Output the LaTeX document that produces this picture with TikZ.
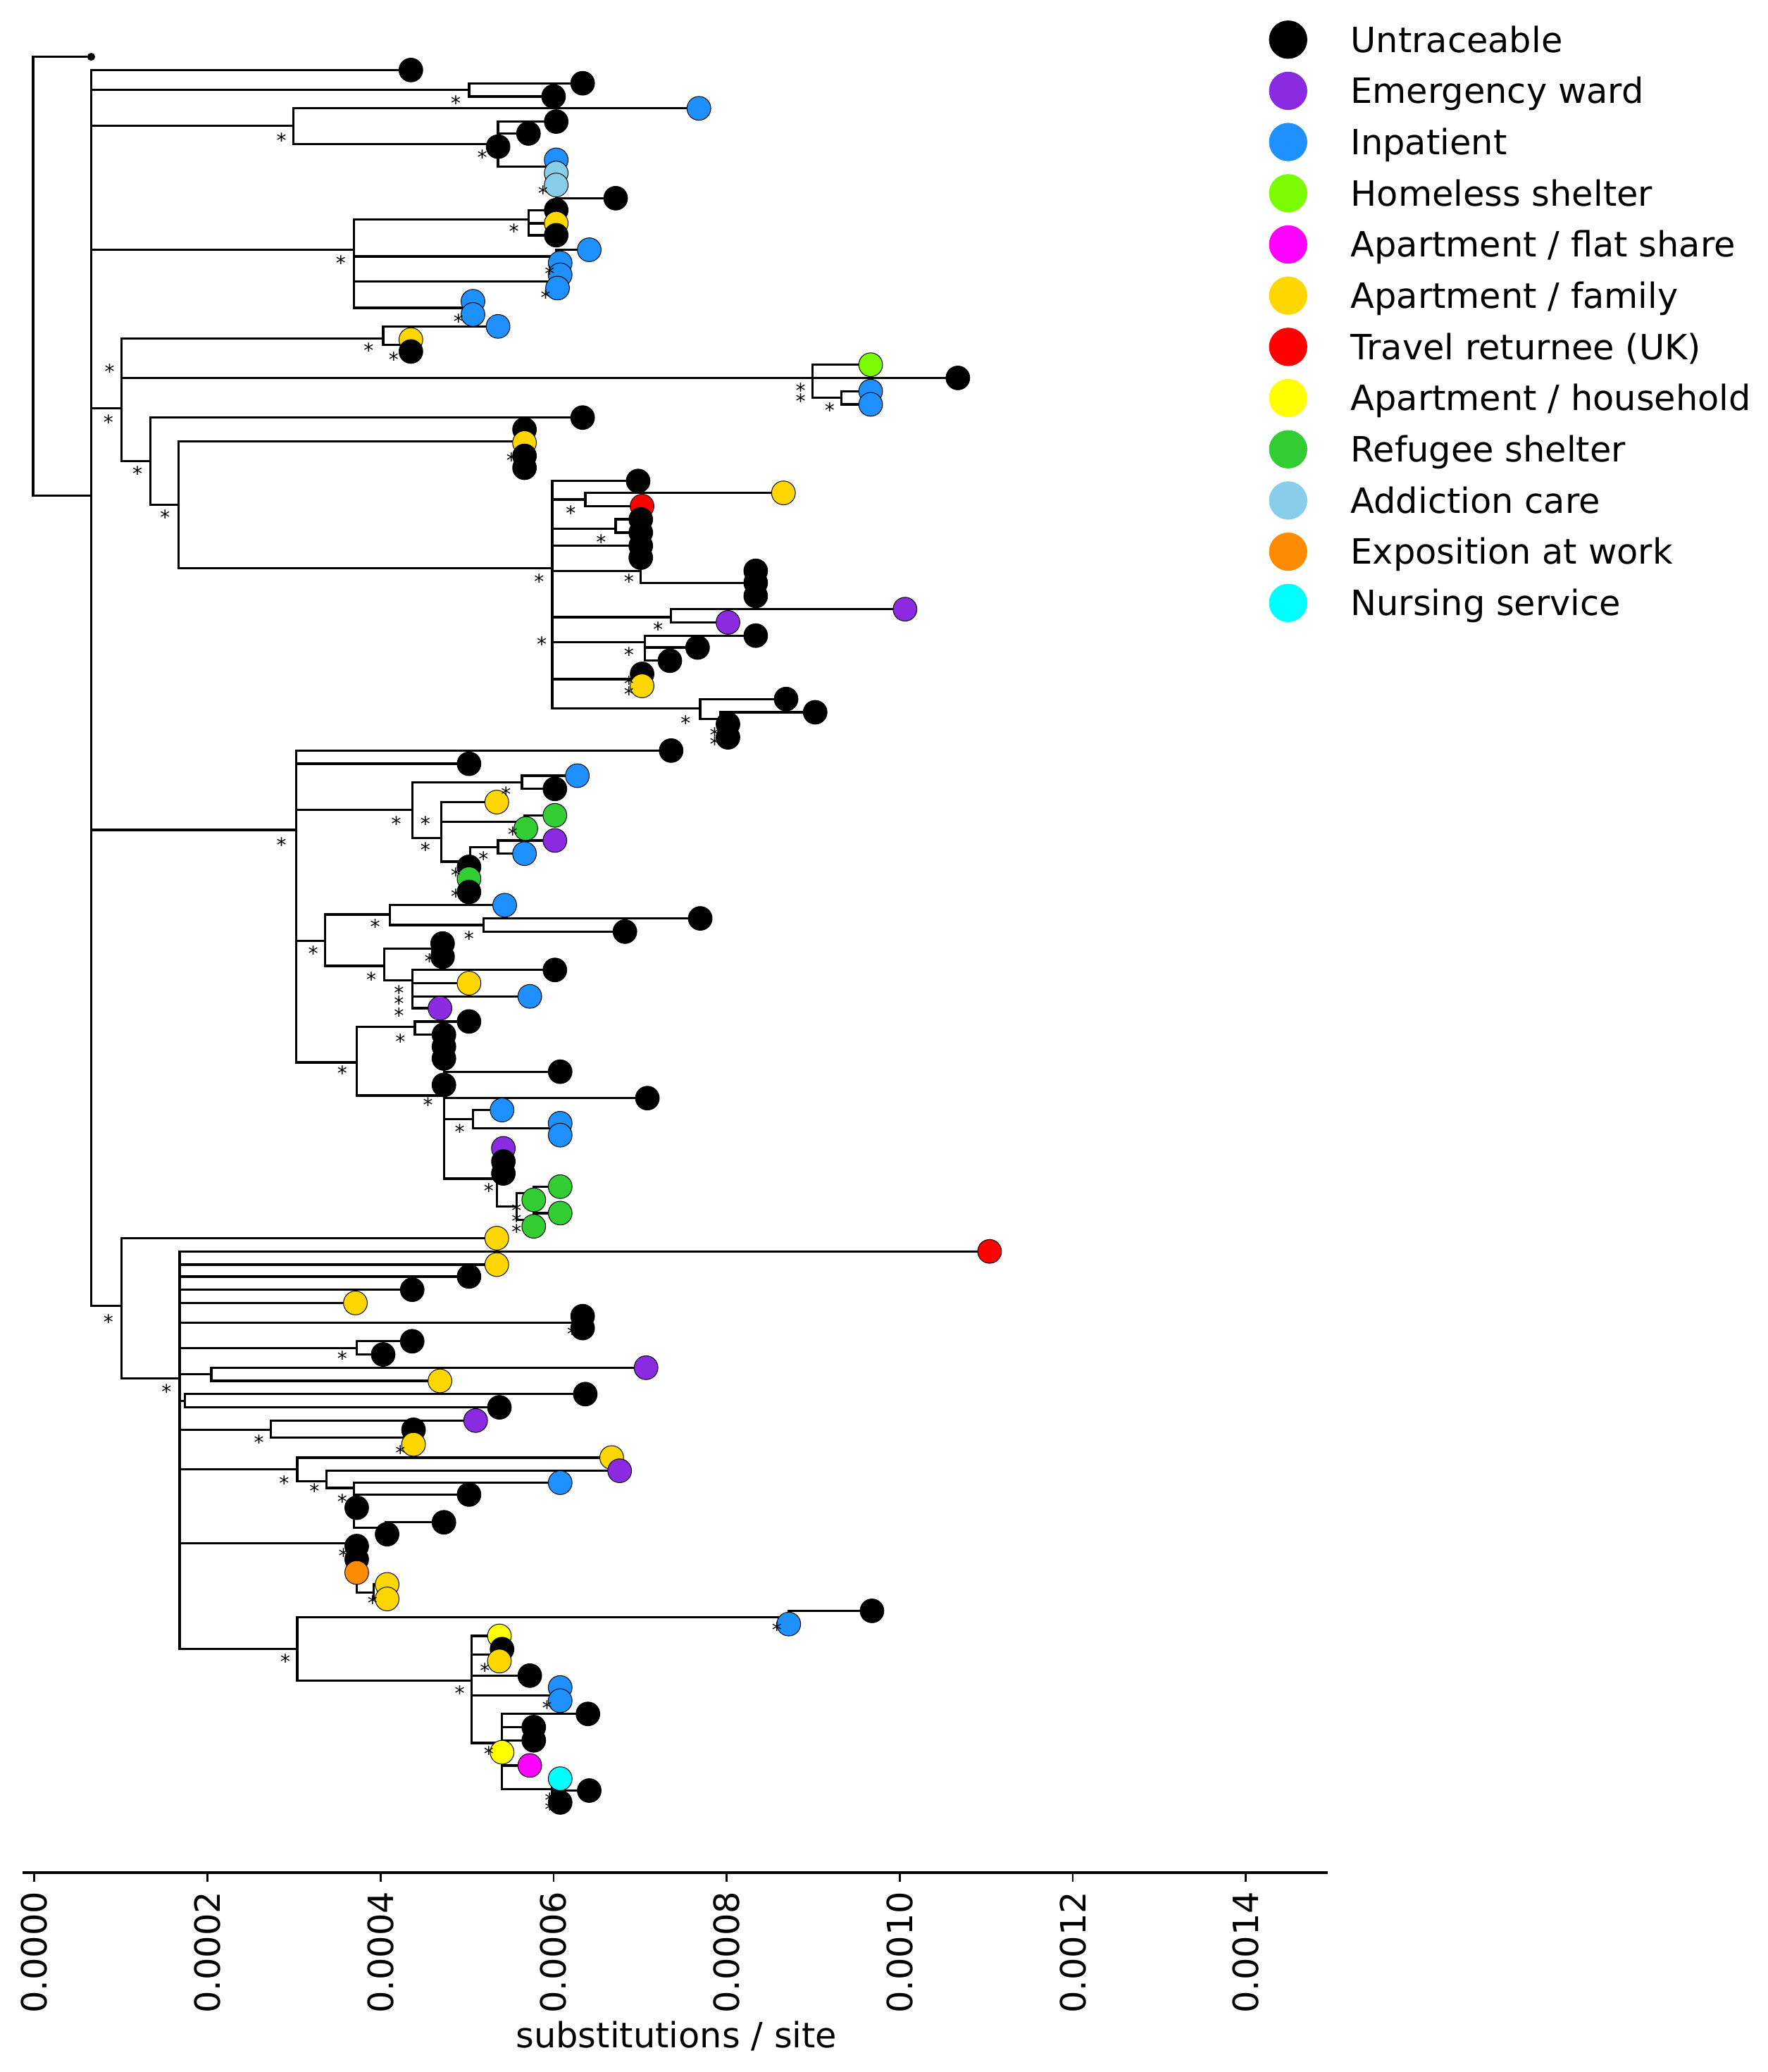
\documentclass[tikz,border=0pt]{standalone}
\usepackage{fontspec}
\setmainfont{DejaVu Sans}
\definecolor{untr}{HTML}{000000}
\definecolor{emerg}{HTML}{8A2BE2}
\definecolor{inpat}{HTML}{1E90FF}
\definecolor{homel}{HTML}{7CFC00}
\definecolor{aptflat}{HTML}{FF00FF}
\definecolor{aptfam}{HTML}{FFD700}
\definecolor{travel}{HTML}{FF0000}
\definecolor{apthouse}{HTML}{FFFF00}
\definecolor{refug}{HTML}{32CD32}
\definecolor{addic}{HTML}{87CEEB}
\definecolor{expos}{HTML}{FF8C00}
\definecolor{nurse}{HTML}{00FFFF}
\begin{document}
\begin{tikzpicture}[x=0.02cm,y=-0.02cm]
% styles
\tikzset{branch/.style={line width=1pt, line cap=rect},
         tipdot/.style={draw=black, line width=0.3pt},
         starlab/.style={inner sep=0pt, yshift=-1.8pt, font=\fontsize{8.5}{8.5}\selectfont},
         leglab/.style={anchor=base west, inner sep=0pt, font=\fontsize{15}{18}\selectfont},
         ticklab/.style={rotate=90, anchor=east, inner sep=0pt, font=\fontsize{15}{18}\selectfont}}
\useasboundingbox (0,0) rectangle (1338,1568);

% the tree -- vertical lines of the inner nodes
\foreach \x/\ya/\yb in {25/43/375, 69/53/988, 355/63/73, 222/82/109, 377/92/126,
    418/121/145, 421/140/150, 268/166/233, 400/159/178, 421/189/199, 421/208/218,
    358/228/238, 92/256/349, 290/247/261, 305/257/266, 615/276/301, 637/296/306,
    114/316/382, 397/316/325, 135/334/430, 397/334/354, 418/364/536, 443/373/383,
    466/393/403, 485/422/441, 567/432/451, 508/461/471, 488/481/500, 483/510/519,
    530/529/544, 545/539/558, 224/568/804, 312/592/634, 395/587/597, 334/607/652,
    397/617/627, 356/641/675, 377/636/646, 246/692/731, 295/685/700, 366/695/705,
    291/718/742, 327/714/724, 312/734/763, 270/777/829, 314/773/783, 336/792/892,
    358/840/854, 421/850/859, 376/869/913, 391/903/923, 404/898/908, 404/918/928,
    92/937/1043, 136/947/1248, 441/996/1005, 270/1015/1025, 160/1035/1045,
    140/1055/1065, 205/1075/1088, 313/1082/1093, 225/1103/1121, 247/1113/1126,
    268/1122/1156, 292/1152/1161, 270/1168/1205, 283/1199/1210, 225/1224/1272,
    597/1219/1229, 357/1238/1319, 378/1248/1257, 418/1277/1287, 380/1297/1354,
    418/1346/1364} {
\draw [branch] (\x,\ya) -- (\x,\yb);
}

% the tree -- horizontal branches
\foreach \xa/\xb/\y in {25/69/43, 25/69/375, 69/311/53, 69/355/68, 355/441/63,
    355/419/73, 69/222/95, 222/529/82, 222/377/109, 377/421/92, 377/400/101,
    377/418/126, 418/421/121, 418/421/131, 418/421/145, 421/466/150, 69/268/189,
    268/400/166, 400/421/159, 400/421/169, 400/421/178, 268/421/194, 421/446/189,
    421/424/199, 268/421/213, 421/424/208, 421/422/218, 268/358/233, 69/92/309,
    92/290/256, 290/377/247, 290/305/261, 305/311/257, 305/311/266, 92/615/286,
    615/659/276, 615/725/286, 615/637/301, 637/659/296, 637/659/306, 92/114/349,
    114/441/316, 114/135/382, 135/397/334, 135/418/430, 418/483/364, 418/443/378,
    443/593/373, 443/486/383, 418/466/400, 466/485/393, 466/485/403, 418/485/413,
    418/485/432, 485/567/441, 567/572/432, 567/572/451, 418/508/467, 508/685/461,
    508/551/471, 418/488/486, 488/572/481, 488/528/490, 488/507/500, 418/483/514,
    483/486/510, 483/486/519, 418/530/536, 530/595/529, 530/545/544, 545/617/539,
    545/551/548, 545/551/558, 69/224/628, 224/508/568, 224/355/578, 224/312/613,
    312/395/592, 395/437/587, 395/420/597, 312/334/634, 334/376/607, 334/397/622,
    397/420/617, 334/356/652, 356/377/641, 377/420/636, 377/397/646, 224/246/712,
    246/295/692, 295/382/685, 295/366/700, 366/530/695, 366/473/705, 246/291/731,
    291/327/718, 327/335/714, 327/335/724, 291/312/742, 312/420/734, 312/355/744,
    312/401/754, 312/333/763, 224/270/804, 270/314/777, 314/355/773, 314/336/783,
    270/336/829, 336/424/811, 336/490/831, 336/358/847, 358/380/840, 358/421/854,
    421/424/850, 421/424/859, 336/376/892, 376/391/913, 391/404/903, 404/424/898,
    391/404/923, 404/424/918, 69/92/988, 92/376/937, 92/136/1043, 136/749/947,
    136/376/957, 136/355/966, 136/312/976, 136/269/986, 136/441/1001,
    136/270/1020, 270/312/1015, 270/290/1025, 136/160/1040, 160/489/1035,
    160/333/1045, 136/140/1060, 140/443/1055, 140/378/1065, 136/205/1082,
    205/360/1075, 205/313/1088, 136/225/1112, 225/463/1103, 225/247/1121,
    247/469/1113, 247/268/1126, 268/424/1122, 268/355/1131, 268/292/1156,
    292/336/1152, 136/270/1168, 270/283/1205, 283/293/1199, 283/293/1210,
    136/225/1248, 225/597/1224, 597/660/1219, 225/357/1272, 357/378/1238,
    357/378/1252, 357/401/1268, 357/418/1283, 418/424/1277, 418/424/1287,
    357/380/1319, 380/445/1297, 380/404/1307, 380/404/1317, 380/401/1336,
    380/418/1354, 418/446/1355, 418/424/1364} {
\draw [branch] (\xa,\y) -- (\xb,\y);
}

% the reference dot
\fill (69,43) circle [radius=0.06cm];

% the tips
\foreach \x/\y/\c in {311/53/untr, 441/63/untr, 419/73/untr, 529/82/inpat,
    421/92/untr, 400/101/untr, 377/111/untr, 421/121/inpat, 421/131/addic,
    421/140/addic, 466/150/untr, 421/159/untr, 421/169/aptfam, 421/178/untr,
    446/189/inpat, 424/199/inpat, 424/208/inpat, 422/218/inpat, 358/228/inpat,
    358/238/inpat, 377/247/inpat, 311/257/aptfam, 311/266/untr, 659/276/homel,
    725/286/untr, 659/296/inpat, 659/306/inpat, 441/316/untr, 397/325/untr,
    397/335/aptfam, 397/345/untr, 397/354/untr, 483/364/untr, 593/373/aptfam,
    486/383/travel, 485/393/untr, 485/403/untr, 485/413/untr, 485/422/untr,
    572/432/untr, 572/441/untr, 572/451/untr, 685/461/emerg, 551/471/emerg,
    572/481/untr, 528/490/untr, 507/500/untr, 486/510/untr, 486/519/aptfam,
    595/529/untr, 617/539/untr, 551/548/untr, 551/558/untr, 508/568/untr,
    355/578/untr, 437/587/inpat, 420/597/untr, 376/607/aptfam, 420/617/refug,
    398/627/refug, 420/636/emerg, 397/646/inpat, 355/656/untr, 355/665/refug,
    355/675/untr, 382/685/inpat, 530/695/untr, 473/705/untr, 335/714/untr,
    335/724/untr, 420/734/untr, 355/744/aptfam, 401/754/inpat, 333/763/emerg,
    355/773/untr, 336/783/untr, 336/792/untr, 336/801/untr, 424/811/untr,
    336/821/untr, 490/831/untr, 380/840/inpat, 424/850/inpat, 424/859/inpat,
    381/869/emerg, 381/879/untr, 381/888/untr, 424/898/refug, 404/908/refug,
    424/918/refug, 404/928/refug, 376/937/aptfam, 749/947/travel, 376/957/aptfam,
    355/966/untr, 312/976/untr, 269/986/aptfam, 441/996/untr, 441/1005/untr,
    312/1015/untr, 290/1025/untr, 489/1035/emerg, 333/1045/aptfam, 443/1055/untr,
    378/1065/untr, 360/1075/emerg, 313/1082/untr, 313/1093/aptfam,
    463/1103/aptfam, 469/1113/emerg, 424/1122/inpat, 355/1131/untr,
    270/1141/untr, 336/1152/untr, 293/1161/untr, 270/1170/untr, 270/1180/untr,
    270/1190/expos, 293/1199/aptfam, 293/1210/aptfam, 660/1219/untr,
    597/1229/inpat, 378/1238/apthouse, 380/1248/untr, 378/1257/aptfam,
    401/1268/untr, 424/1277/inpat, 424/1287/inpat, 445/1297/untr, 404/1307/untr,
    404/1317/untr, 380/1326/apthouse, 401/1336/aptflat, 424/1346/nurse,
    446/1355/untr, 424/1364/untr} {
\filldraw [tipdot, fill=\c] (\x,\y) circle [radius=0.18cm];
}

% the support marks
\foreach \x/\y [count=\i] in {345/75, 213/103, 365/116, 411/143, 389/172,
    258/196, 416/204, 413/222, 347/240, 279/262, 298/269, 83/278, 606/292,
    606/300, 628/307, 82/316, 104/355, 387/345, 125/388, 432/385, 455/407,
    476/437, 408/437, 498/473, 410/484, 476/492, 476/514, 476/522, 519/544,
    541/553, 541/560, 213/636, 383/598, 300/620, 322/620, 388/628, 322/640,
    366/647, 345/659, 345/675, 284/698, 355/707, 237/718, 325/724, 281/738,
    302/748, 302/756, 302/765, 303/785, 259/809, 324/833, 348/853, 370/898,
    391/913, 391/921, 391/929, 82/997, 433/1006, 259/1025, 126/1050, 196/1088,
    303/1096, 215/1119, 238/1125, 259/1133, 260/1174, 282/1210, 216/1254,
    588/1230, 367/1261, 348/1278, 414/1289, 370/1324, 416/1359, 416/1366} {
\node [starlab] (star\i) at (\x,\y) {*};
}

% the axis
\draw [line width=1.1pt] (17,1417) -- (1005,1417);
\foreach \t [count=\i from 0] in {0.0000,0.0002,0.0004,0.0006,0.0008,0.0010,0.0012,0.0014} {
\draw [line width=0.8pt] ({26+131*\i},1417) -- ({26+131*\i},1424);
\node [ticklab] (tick\i) at ({26+131*\i},1431) {\t};
}
\node [font=\fontsize{15}{18}\selectfont] (xtitle) at (512,1541) {substitutions / site};

% the legend
\foreach \lab/\c [count=\i from 0] in {{Untraceable}/untr, {Emergency ward}/emerg,
    {Inpatient}/inpat, {Homeless shelter}/homel, {Apartment / flat share}/aptflat,
    {Apartment / family}/aptfam, {Travel returnee (UK)}/travel,
    {Apartment / household}/apthouse, {Refugee shelter}/refug, {Addiction care}/addic,
    {Exposition at work}/expos, {Nursing service}/nurse} {
\fill [fill=\c] (975,{30+38.75*\i}) circle [radius=0.29cm];
\node [leglab] (leg\i) at (1022,{39.5+38.75*\i}) {\lab};
}
\end{tikzpicture}
\end{document}
